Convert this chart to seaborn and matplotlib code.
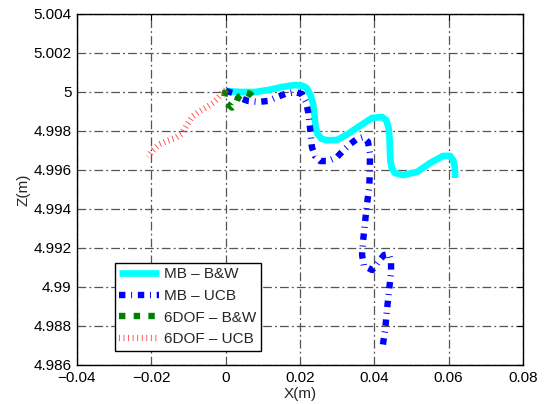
import pandas as pd
import matplotlib
matplotlib.use("Agg")
import matplotlib.pyplot as plt
import seaborn as sns

# MB - B&W
mb_bw_x = [0.0001, 0.0039, 0.0079, 0.0114, 0.0152, 0.0187, 0.0208, 0.0218, 0.0228, 0.0235,
           0.0239, 0.0242, 0.0247, 0.0258, 0.0273, 0.0300, 0.0329, 0.0361, 0.0394, 0.0421,
           0.0432, 0.0438, 0.0441, 0.0442, 0.0443, 0.0447, 0.0455, 0.0477, 0.0515, 0.0550,
           0.0585, 0.0604, 0.0612, 0.0616, 0.0617, 0.0617]
mb_bw_z = [5.00005, 5.0000, 5.0000, 5.0001, 5.00026, 5.00036, 5.00031, 5.0002, 4.99985, 4.9994,
           4.9988, 4.9982, 4.99785, 4.9976, 4.99752, 4.99754, 4.99785, 4.99826, 4.99867, 4.99872,
           4.99855, 4.9982, 4.9976, 4.9970, 4.9965, 4.9961, 4.99585, 4.99574, 4.99590, 4.99636,
           4.99672, 4.99672, 4.9965, 4.9962, 4.9959, 4.99559]

# MB - UCB
mb_ucb_x = [0.0001, 0.0020, 0.0039, 0.0060, 0.0087, 0.0114, 0.0138, 0.0160, 0.0187, 0.0205,
            0.0216, 0.0222, 0.0227, 0.0232, 0.0240, 0.0254, 0.0275, 0.0300, 0.0318, 0.0335,
            0.0353, 0.0370, 0.0383, 0.0388, 0.0388, 0.0386, 0.0380, 0.0375, 0.0370, 0.0367,
            0.0372, 0.0394, 0.0410, 0.0426, 0.0439, 0.0445, 0.0445, 0.0439, 0.0434, 0.0429,
            0.0423]
mb_ucb_z = [5.00005, 4.99995, 4.99969, 4.99954, 4.99949, 4.99954, 4.99974, 4.99990, 5.0000, 4.9999,
            4.99949, 4.99897, 4.99815, 4.99718, 4.99672, 4.99646, 4.99646, 4.99667, 4.99703, 4.99733,
            4.99759, 4.99769, 4.99744, 4.99687, 4.99585, 4.99508, 4.99421, 4.99333, 4.99241, 4.99164,
            4.99108, 4.99087, 4.99128, 4.99164, 4.99169, 4.99128, 4.99072, 4.98974, 4.98882, 4.98780,
            4.98703]

# 6DOF - B&W
dof_bw_x = [0.0, -0.0004, 0.0004, 0.0017, 0.0028, 0.0033, 0.0047, 0.0066, 0.0079]
dof_bw_z = [5.0001, 4.9997, 4.9994, 4.9992, 4.9994, 4.9997, 5.0000, 4.9999, 4.9996]

# 6DOF - UCB
dof_ucb_x = [0.0, -0.0007, -0.0021, -0.0034, -0.0050, -0.0074, -0.0091, -0.0104, -0.0118,
             -0.0136, -0.0158, -0.0177, -0.0196, -0.0209]
dof_ucb_z = [5.0001, 5.0000, 4.99969, 4.99944, 4.99923, 4.99897, 4.99872, 4.99831, 4.99785,
             4.99764, 4.99749, 4.99733, 4.99703, 4.99667]

x_ticks = [-0.04, -0.02, 0, 0.02, 0.04, 0.06, 0.08]
x_labels = ["\u22120.04", "\u22120.02", "0", "0.02", "0.04", "0.06", "0.08"]
z_ticks = [4.986, 4.988, 4.99, 4.992, 4.994, 4.996, 4.998, 5.0, 5.002, 5.004]
z_labels = ["4.986", "4.988", "4.99", "4.992", "4.994", "4.996", "4.998", "5", "5.002", "5.004"]

series = [
    ("MB \u2013 B&W", mb_bw_x, mb_bw_z, dict(color="#00ffff", lw=4.8, dashes=None)),
    ("MB \u2013 UCB", mb_ucb_x, mb_ucb_z, dict(color="#0000ff", lw=4.6, dashes=(1.0, 0.9, 0.15, 0.9))),
    ("6DOF \u2013 B&W", dof_bw_x, dof_bw_z, dict(color="#008000", lw=4.6, dashes=(1.0, 1.3))),
    ("6DOF \u2013 UCB", dof_ucb_x, dof_ucb_z, dict(color="#ff3c3c", lw=4.5, dashes=(0.13, 0.6))),
]

sns.set_theme(style="white")
plt.rcParams["font.family"] = ["Liberation Sans", "DejaVu Sans"]

fig = plt.figure(figsize=(5.51, 4.04), dpi=100)
ax = fig.add_axes([77 / 551, 1 - 365 / 404, 446 / 551, 351 / 404])

for name, xs, zs, st in series:
    df = pd.DataFrame({"X": xs, "Z": zs})
    sns.lineplot(data=df, x="X", y="Z", sort=False, estimator=None,
                 color=st["color"], linewidth=st["lw"], label=name, ax=ax)
    ln = ax.get_lines()[-1]
    if st["dashes"] is not None:
        ln.set_dashes(st["dashes"])
    ln.set_solid_capstyle("butt")
    ln.set_dash_capstyle("butt")
    ln.set_solid_joinstyle("round")
    ln.set_dash_joinstyle("round")

ax.set_xlim(-0.04, 0.08)
ax.set_ylim(4.986, 5.004)
ax.set_xticks(x_ticks)
ax.set_xticklabels(x_labels)
ax.set_yticks(z_ticks)
ax.set_yticklabels(z_labels)
ax.tick_params(direction="in", top=True, right=True, length=4, width=0.8,
               labelsize=11, colors="black", pad=4)
ax.grid(True, color="#555555", linestyle=(0, (7, 2.5, 1.5, 2.5)), linewidth=0.9)
for s in ax.spines.values():
    s.set_color("black")
    s.set_linewidth(1.0)
ax.set_xlabel("X(m)", fontsize=11, labelpad=2)
ax.set_ylabel("Z(m)", fontsize=11, labelpad=2)

leg = ax.legend(loc="lower left", bbox_to_anchor=(0.085, 0.04), fontsize=11,
                frameon=True, fancybox=False, edgecolor="black", framealpha=1,
                handlelength=2.6, borderpad=0.3, labelspacing=0.5, handletextpad=0.3,
                borderaxespad=0)
leg.get_frame().set_linewidth(1.0)

fig.savefig("out.png", dpi=100)
